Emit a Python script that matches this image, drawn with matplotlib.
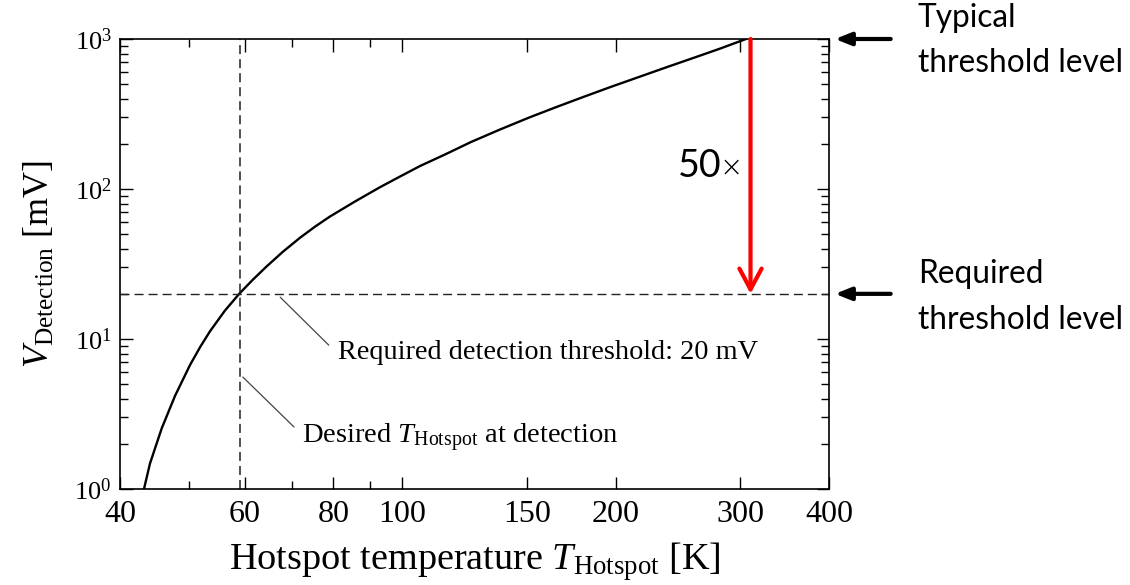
import matplotlib
matplotlib.use('Agg')
import matplotlib.pyplot as plt
from matplotlib.ticker import FixedLocator, NullFormatter, LogLocator

# ---- data ----
T_hotspot = [43.24, 44.09, 45.80, 47.83, 50.21, 51.87, 53.58, 56.25, 59.05, 61.60,
             64.40, 67.90, 71.76, 75.34, 79.11, 85.80, 93.06, 99.34, 105.98, 114.92,
             125.06, 137.43, 151.47, 164.84, 179.92, 197.08, 216.56, 237.19, 259.78,
             280.83, 305.49]
V_detection = [1.00, 1.479, 2.535, 4.181, 6.705, 8.810, 11.26, 15.48, 20.26, 24.89,
               30.48, 38.19, 47.28, 56.07, 65.56, 82.54, 102.8, 121.2, 142.3, 169.8,
               205.7, 249.3, 301.1, 351.2, 410.0, 480.0, 561.6, 653.7, 758.6,
               863.0, 1000.0]

threshold_mV = 20
typical_mV = 1000
T_desired = 59
T_arrow = 310

x_major = [40, 60, 80, 100, 150, 200, 300, 400]
x_major_labels = ['40', '60', '80', '100', '150', '200', '300', '400']
x_minor = [50, 70, 90]

plt.rcParams['font.family'] = ['Liberation Serif', 'DejaVu Serif']
plt.rcParams['mathtext.fontset'] = 'custom'
plt.rcParams['mathtext.rm'] = 'Liberation Serif'
plt.rcParams['mathtext.it'] = 'Liberation Serif:italic'
plt.rcParams['lines.scale_dashes'] = False

fig = plt.figure(figsize=(11.3, 5.85), dpi=100)
ax = fig.add_axes([120 / 1130, 1 - 489 / 585, 709 / 1130, 450 / 585])
ax.set_xscale('log')
ax.set_yscale('log')
ax.set_xlim(40, 400)
ax.set_ylim(1, 1000)

ax.plot(T_hotspot, V_detection, color='black', lw=1.7, solid_joinstyle='round')

dash = (0, (6.5, 3.6))
ax.axhline(threshold_mV, color='#222222', lw=1.0, linestyle=dash)
ax.axvline(T_desired, color='#222222', lw=1.1, linestyle=dash)

ax.xaxis.set_major_locator(FixedLocator(x_major))
ax.set_xticklabels(x_major_labels)
ax.xaxis.set_minor_locator(FixedLocator(x_minor))
ax.xaxis.set_minor_formatter(NullFormatter())
ax.yaxis.set_major_locator(LogLocator(base=10, numticks=10))
ax.yaxis.set_minor_locator(LogLocator(base=10, subs=range(2, 10), numticks=20))
ax.yaxis.set_minor_formatter(NullFormatter())

ax.tick_params(which='both', direction='in', top=True, right=True)
ax.tick_params(which='major', length=9, width=1.0)
ax.tick_params(axis='x', which='major', pad=8, labelsize=23)
ax.tick_params(axis='y', which='major', pad=6, labelsize=19)
ax.tick_params(which='minor', length=5.5, width=1.0)
for s in ax.spines.values():
    s.set_linewidth(1.2)

ax.set_xlabel(r'Hotspot temperature $T_{\mathrm{Hotspot}}$ [K]', fontsize=27.5, labelpad=8)
ax.set_ylabel(r'$V_{\mathrm{Detection}}$ [mV]', fontsize=26, labelpad=13)

# annotations with leader lines
ax.annotate('', xy=(67.3, 19.0), xytext=(78.8, 9.1),
            arrowprops=dict(arrowstyle='-', color='#444444', lw=0.9, shrinkA=0, shrinkB=0))
ax.text(81.1, 7.36, 'Required detection threshold: 20 mV', fontsize=20.3, va='baseline', ha='left')
ax.annotate('', xy=(59.6, 5.58), xytext=(70.4, 2.59),
            arrowprops=dict(arrowstyle='-', color='#444444', lw=0.9, shrinkA=0, shrinkB=0))
ax.text(72.2, 2.02, r'Desired $T_{\mathrm{Hotspot}}$ at detection', fontsize=20.5, va='baseline', ha='left')

# red 50x arrow
ax.annotate('', xy=(T_arrow, threshold_mV), xytext=(T_arrow, typical_mV),
            arrowprops=dict(arrowstyle='->,head_length=0.75,head_width=0.4', color='red',
                            lw=3, shrinkA=0, shrinkB=0, mutation_scale=20),
            annotation_clip=False)
fig.text(722 / 1130, 1 - 177 / 585, '50', fontsize=27, family='Lato', ha='right', va='baseline')
fig.text(743 / 1130, 1 - 168 / 585, '\u00d7', fontsize=20, family='DejaVu Sans', ha='right', va='center',
         fontweight='light')

# black arrows on the right
ytr = ax.get_yaxis_transform()
for lev in (typical_mV, threshold_mV):
    ax.annotate('', xy=(1.0085, lev), xycoords=ytr, xytext=(1.087, lev), textcoords=ytr,
                arrowprops=dict(arrowstyle='-|>,head_length=0.95,head_width=0.38', color='black',
                                lw=3, shrinkA=0, shrinkB=0, mutation_scale=10),
                annotation_clip=False)

sans = 'Lato'
fs_side = 22.8
fig.text(918 / 1130, 1 - 27 / 585, 'Typical', fontsize=fs_side, family=sans, va='baseline')
fig.text(918 / 1130, 1 - 72 / 585, 'threshold level', fontsize=fs_side, family=sans, va='baseline')
fig.text(918 / 1130, 1 - 283 / 585, 'Required', fontsize=fs_side, family=sans, va='baseline')
fig.text(918 / 1130, 1 - 329 / 585, 'threshold level', fontsize=fs_side, family=sans, va='baseline')

fig.savefig('out.png', dpi=100)
